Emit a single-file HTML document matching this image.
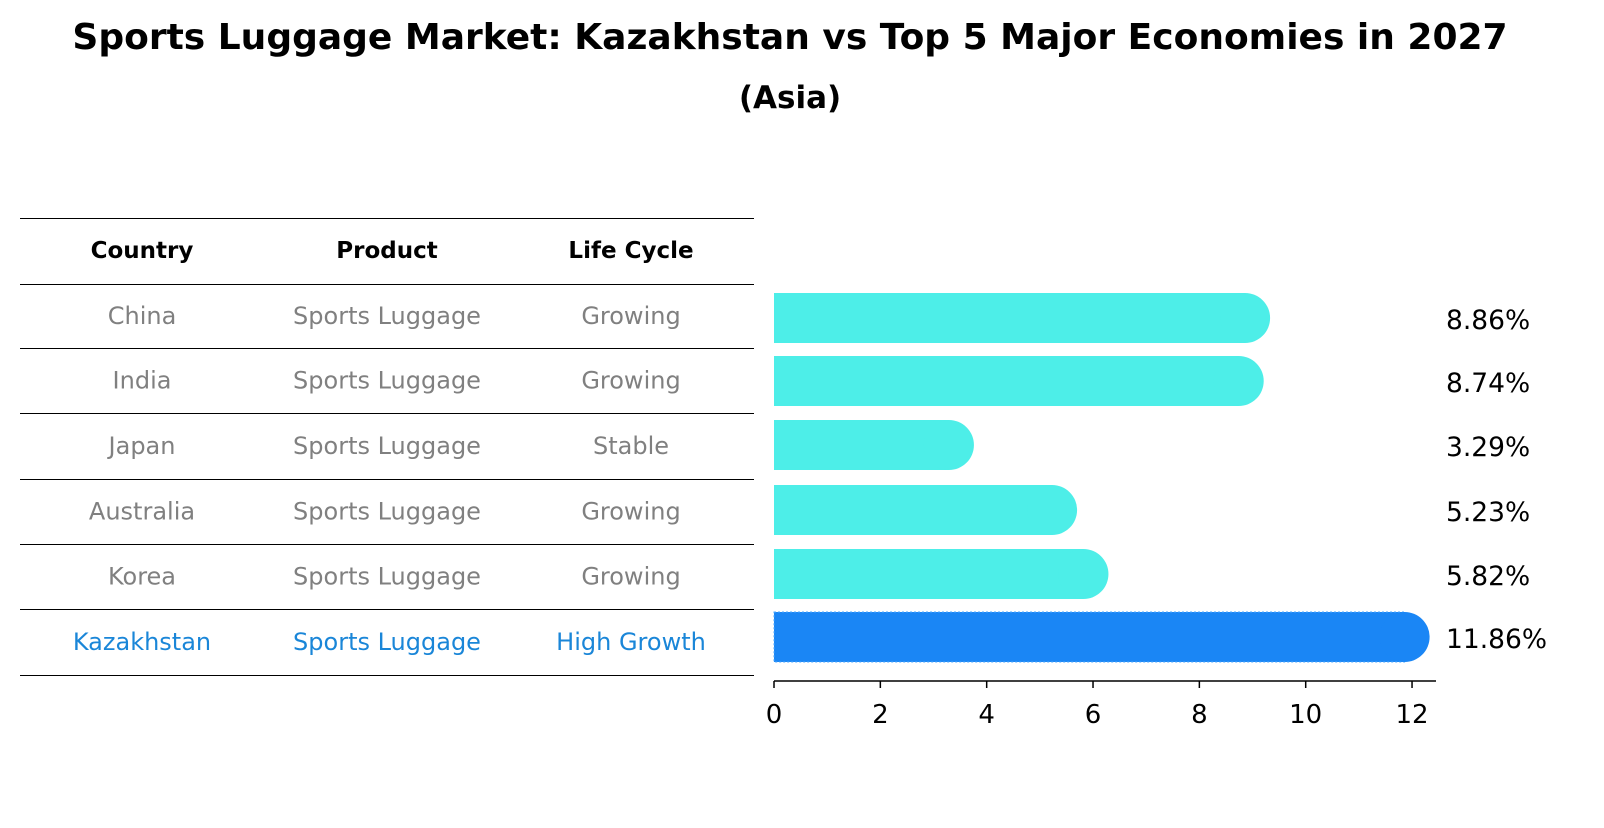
<!DOCTYPE html>
<html><head><meta charset="utf-8"><style>
body{margin:0;background:#fff;}
svg text{font-family:"DejaVu Sans","Liberation Sans",sans-serif;}
</style></head><body>
<svg width="1604" height="823" viewBox="0 0 1604 823" xmlns="http://www.w3.org/2000/svg">
<text x="790" y="49" text-anchor="middle" font-size="36" font-weight="bold">Sports Luggage Market: Kazakhstan vs Top 5 Major Economies in 2027</text>
<text x="790" y="108" text-anchor="middle" font-size="31" font-weight="bold">(Asia)</text>
<g id="table"></g>
<g id="bars"></g>
</svg>
<script>
const countries=["China","India","Japan","Australia","Korea","Kazakhstan"];
const products=["Sports Luggage","Sports Luggage","Sports Luggage","Sports Luggage","Sports Luggage","Sports Luggage"];
const lifeCycles=["Growing","Growing","Stable","Growing","Growing","High Growth"];
const values=[8.86,8.74,3.29,5.23,5.82,11.86];
const ticks=[0,2,4,6,8,10,12];
const NS="http://www.w3.org/2000/svg";
function mk(t,a,p){const e=document.createElementNS(NS,t);for(const k in a)e.setAttribute(k,a[k]);p.appendChild(e);return e;}
const tbl=document.getElementById('table'),bars=document.getElementById('bars');
const lineYs=[218,284,348,413,479,544,609,675];
const colX=[142,387,631];
lineYs.forEach(y=>{const l=mk('line',{x1:20,x2:754,y1:y+0.5,y2:y+0.5,stroke:'#000','stroke-width':1},tbl);

});
["Country","Product","Life Cycle"].forEach((h,i)=>{const t=mk('text',{x:colX[i],y:258,'text-anchor':'middle','font-size':23,'font-weight':'bold'},tbl);t.textContent=h;

});
const xs=v=>774+v*53.17;
const rowY=i=>(lineYs[i+1]+lineYs[i+2])/2;
countries.forEach((c,i)=>{
 const hl=i===countries.length-1, col=hl?'#1a86d8':'#808080';
 [c,products[i],lifeCycles[i]].forEach((s,j)=>{const t=mk('text',{x:colX[j],y:rowY(i)+8,'text-anchor':'middle','font-size':24,fill:col},tbl);t.textContent=s;
 
 });
 const cy=[318,381,445,510,574,637][i], h=50;
 const fill=hl?'#1a86f5':'#4deee8';
 const x1=xs(values[i]);
 const r=mk('rect',{x:774,y:cy-h/2,width:x1-774,height:h,fill:fill},bars);
 if(hl){r.setAttribute('stroke','#4da8ff');r.setAttribute('stroke-dasharray','2 2');r.setAttribute('stroke-width','1');}
 
 
 const cap=mk('circle',{cx:x1,cy:cy,r:h/2,fill:fill},bars);
 
 
 const lb=mk('text',{x:1446,y:cy+11,'font-size':26.5},bars);lb.textContent=values[i].toFixed(2)+'%';
 
 
});
const ax=mk('line',{x1:774,x2:1436,y1:681,y2:681,stroke:'#000','stroke-width':1.5},bars);


ticks.forEach(t=>{const tl=mk('line',{x1:xs(t),x2:xs(t),y1:681,y2:688,stroke:'#000','stroke-width':1.5},bars);


const tx=mk('text',{x:xs(t),y:723,'text-anchor':'middle','font-size':26},bars);tx.textContent=t;

});
</script>
</body></html>
